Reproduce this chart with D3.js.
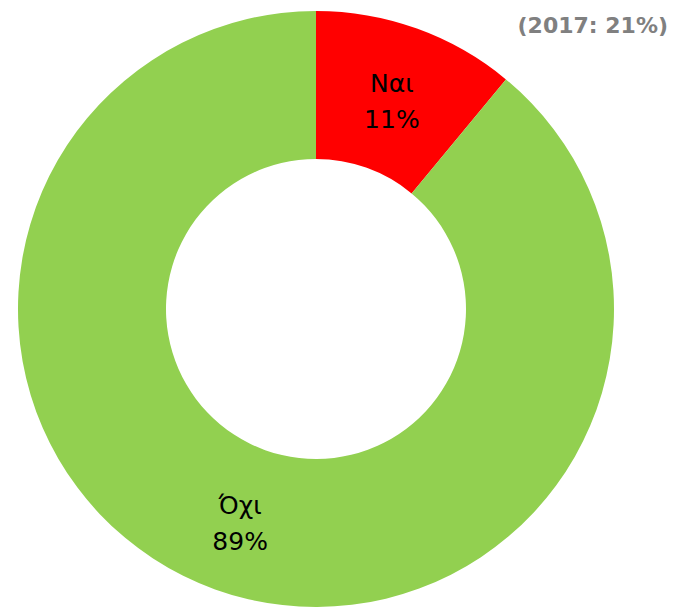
<!DOCTYPE html>
<html>
<head>
<meta charset="utf-8">
<script src="https://cdn.jsdelivr.net/npm/d3@7"></script>
<style>
  body { margin: 0; background: #fff; }
</style>
</head>
<body>
<div id="chart"></div>
<script>
// data
var categories = ["Ναι", "Όχι"];
var values = [11, 89];
var colors = ["#FF0000", "#92D050"];
var note = "(2017: 21%)";

var width = 674, height = 608;
var cx = 316, cy = 309, outerR = 298, innerR = 150;

var svg = d3.select("#chart")
    .append("svg")
    .attr("width", width)
    .attr("height", height);

var g = svg.append("g")
    .attr("transform", "translate(" + cx + "," + cy + ")");

var pie = d3.pie().sort(null).value(function (d) { return d; });
var arcs = pie(values);

var arc = d3.arc().innerRadius(innerR).outerRadius(outerR);

g.selectAll("path")
    .data(arcs)
    .enter()
    .append("path")
    .attr("d", arc)
    .style("fill", function (d, i) { return colors[i]; });

// labels at slice centroid
var labels = g.selectAll("text.lbl")
    .data(arcs)
    .enter()
    .append("text")
    .attr("class", "lbl")
    .attr("transform", function (d) { return "translate(" + arc.centroid(d) + ")"; })
    .attr("text-anchor", "middle")
    .style("font-family", "'DejaVu Sans', sans-serif")
    .style("font-size", "25px")
    .style("fill", "#000");

labels.append("tspan")
    .attr("x", 0)
    .attr("y", -6)
    .text(function (d, i) { return categories[i]; });

labels.append("tspan")
    .attr("x", 0)
    .attr("y", 30)
    .text(function (d) { return d.value + "%"; });

// previous year note
svg.append("text")
    .attr("x", 668)
    .attr("y", 33)
    .attr("text-anchor", "end")
    .style("font-family", "'DejaVu Sans', sans-serif")
    .style("font-weight", "bold")
    .style("font-size", "22px")
    .style("fill", "#808080")
    .text(note);
</script>
</body>
</html>
